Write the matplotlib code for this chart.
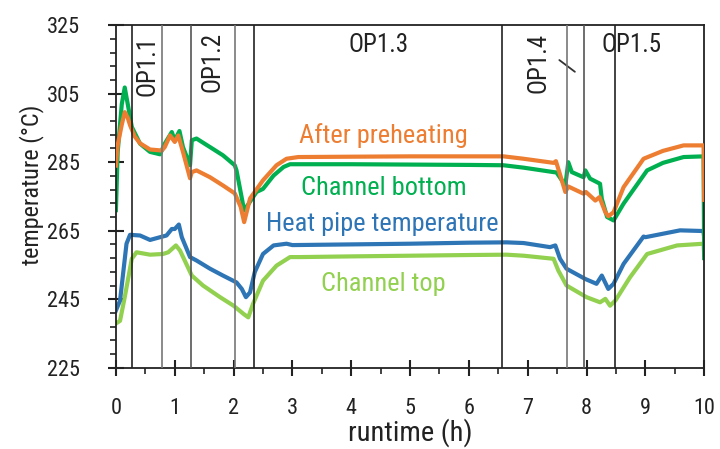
import matplotlib
matplotlib.use("Agg")
import numpy as np
import matplotlib.pyplot as plt

plt.rcParams['font.family'] = ['Roboto Condensed', 'Liberation Sans Narrow', 'Liberation Sans']

# runtime (h) / temperature (degC) for each measuring point
t_preheat = [0, 0.03, 0.1, 0.15, 0.2, 0.24, 0.32, 0.41, 0.58, 0.78, 0.83, 0.92, 1.0, 1.06,
             1.14, 1.26, 1.29, 1.37, 1.6, 1.82, 2.02, 2.12, 2.18, 2.28, 2.5, 2.73, 2.9,
             3.1, 4.0, 5.0, 6.0, 6.59, 6.93, 7.44, 7.48, 7.58, 7.64, 7.69, 7.95, 7.99,
             8.15, 8.22, 8.32, 8.37, 8.46, 8.63, 8.97, 9.3, 9.65, 9.99, 10.0]
T_preheat = [284, 290, 296, 299.6, 298, 295.8, 292.5, 290.5, 288.7, 288.4, 289.4, 292.8,
             290.9, 292.8, 288, 280.3, 282.1, 282.6, 280.6, 278.2, 275.9, 272, 267.5,
             274.4, 279.7, 284.1, 286.0, 286.5, 286.6, 286.7, 286.7, 286.7, 286.0, 284.8,
             285.3, 279.7, 276.3, 277.9, 275.8, 276.3, 273.8, 274.8, 270.4, 269.2, 270.4,
             277.7, 286.0, 288.3, 289.9, 289.9, 274]

t_bottom = [0, 0.03, 0.1, 0.15, 0.21, 0.27, 0.41, 0.58, 0.75, 0.83, 0.95, 1.0, 1.08, 1.14,
            1.26, 1.29, 1.37, 1.6, 1.82, 2.02, 2.05, 2.18, 2.39, 2.5, 2.68, 2.85, 2.96,
            4.0, 5.0, 6.0, 6.59, 6.93, 7.44, 7.49, 7.64, 7.69, 7.75, 7.95, 7.98, 8.06,
            8.23, 8.26, 8.35, 8.46, 8.63, 9.03, 9.3, 9.65, 9.99, 10.0]
T_bottom = [271, 288, 302, 306.8, 301.1, 295.3, 290.4, 288.0, 287.3, 290.4, 293.8, 291.4,
            294.1, 289.4, 284.1, 291.4, 291.9, 289.4, 287.0, 284.1, 282.6, 270.9, 276.3,
            277.2, 281.1, 283.6, 284.4, 284.4, 284.3, 284.2, 284.1, 283.4, 282.1, 282.0,
            278.2, 285.0, 282.1, 280.6, 282.6, 280.2, 278.7, 274.3, 269.0, 268.0, 272.9,
            282.6, 284.8, 286.5, 286.7, 257]

t_pipe = [0, 0.07, 0.18, 0.24, 0.41, 0.58, 0.75, 0.86, 0.95, 1.0, 1.07, 1.12, 1.26, 1.37,
          1.6, 1.82, 2.05, 2.14, 2.21, 2.28, 2.36, 2.5, 2.68, 2.9, 3.0, 4.0, 5.0, 6.0,
          6.64, 6.93, 7.38, 7.47, 7.55, 7.66, 7.98, 8.17, 8.26, 8.37, 8.46, 8.63, 8.97,
          9.0, 9.59, 9.99, 10.0]
T_pipe = [241.7, 244.6, 261.2, 263.8, 263.6, 262.3, 263.1, 263.6, 265.5, 265.5, 266.8,
          263.1, 257.3, 256.3, 253.9, 251.9, 249.9, 248.0, 245.6, 247.0, 252.9, 258.2,
          260.7, 261.2, 260.8, 261.0, 261.2, 261.5, 261.6, 261.4, 260.2, 260.7, 256.8,
          253.9, 250.9, 249.5, 251.9, 248.0, 249.5, 255.3, 263.3, 263.1, 265.1, 264.9, 263]

t_top = [0, 0.07, 0.15, 0.27, 0.35, 0.58, 0.80, 0.89, 1.02, 1.09, 1.29, 1.48, 1.77, 2.0,
         2.17, 2.25, 2.33, 2.5, 2.73, 2.96, 3.13, 4.0, 5.0, 6.0, 6.64, 6.93, 7.44, 7.52,
         7.66, 8.0, 8.23, 8.32, 8.4, 8.49, 8.74, 9.03, 9.54, 9.99, 10.0]
T_top = [237.9, 238.7, 245.6, 256.8, 258.7, 258.0, 258.2, 258.7, 260.7, 259.2, 251.9,
         249.0, 245.6, 243.1, 240.7, 239.7, 243.6, 250.4, 254.8, 257.3, 257.3, 257.5,
         257.7, 257.9, 258.0, 257.7, 256.8, 253.4, 249.0, 245.6, 244.1, 245.1, 243.1,
         244.6, 251.4, 258.2, 260.7, 261.2, 258]

# boundaries between operating points (h)
op_bounds = [0.267, 0.78, 1.28, 2.02, 2.35, 6.57, 7.67, 7.96, 8.49]
op_colors = ['#222222', '#777777', '#555555', '#777777', '#222222',
             '#222222', '#777777', '#555555', '#222222']

x_ticks = list(range(0, 11))
y_ticks = [225, 245, 265, 285, 305, 325]

fig = plt.figure(figsize=(7.2, 4.49), dpi=100)
ax = fig.add_axes([0.161, 0.181, 0.817, 0.763])

for xb, c in zip(op_bounds, op_colors):
    ax.axvline(xb, color=c, lw=1.2, zorder=4)

ax.plot(t_top, T_top, color='#92D050', lw=3, zorder=2)
ax.plot(t_pipe, T_pipe, color='#2E75B6', lw=3, zorder=2)
ax.plot(t_bottom, T_bottom, color='#00B050', lw=3, zorder=2)
ax.plot(t_preheat, T_preheat, color='#ED7D31', lw=3, zorder=3)

ax.set_xlim(0, 10)
ax.set_ylim(225, 325)
ax.set_xticks(x_ticks)
ax.set_xticks(np.arange(0.5, 10, 1), minor=True)
ax.set_yticks(y_ticks)
ax.set_yticks(np.arange(y_ticks[0], y_ticks[-1] + 1, 4), minor=True)

for s in ax.spines.values():
    s.set_linewidth(1.3)
    s.set_color('#222222')

ax.tick_params(which='major', direction='inout', length=12, width=1.5,
               color='#222222', labelsize=16, labelcolor='#222222')
ax.tick_params(axis='y', which='major', pad=20)
ax.tick_params(axis='x', which='major', pad=16)
ax.tick_params(which='minor', direction='out', length=4.5, width=1.2, color='#222222')

ax.set_xlabel('runtime (h)', fontsize=20.5, color='#222222')
ax.set_ylabel('temperature (°C)', fontsize=17.5, color='#222222')
ax.xaxis.set_label_coords(0.5, -0.19)
ax.yaxis.set_label_coords(-0.143, 0.533)
ax.xaxis.label.set_va('center')
ax.yaxis.label.set_va('center')

# operating point labels
op_kw = dict(fontsize=18, color='#222222', ha='center', va='center')
ax.text(0.54, 313.0, 'OP1.1', rotation=90, **op_kw)
ax.text(1.65, 314.2, 'OP1.2', rotation=90, **op_kw)
ax.text(4.46, 319.2, 'OP1.3', **op_kw)
ax.text(7.18, 313.9, 'OP1.4', rotation=90, **op_kw)
ax.text(8.77, 319.2, 'OP1.5', **op_kw)
ax.annotate('', xy=(7.84, 310.9), xytext=(7.50, 315.3),
            arrowprops=dict(arrowstyle='-', color='#333333', lw=1.3))

# series names
lab_kw = dict(fontsize=19, ha='center', va='baseline')
ax.text(4.55, 290.5, 'After preheating', color='#ED7D31', **lab_kw)
ax.text(4.55, 275.3, 'Channel bottom', color='#00B050', **lab_kw)
ax.text(4.53, 264.9, 'Heat pipe temperature', color='#2E75B6', **lab_kw)
ax.text(4.55, 247.5, 'Channel top', color='#92D050', **lab_kw)

fig.savefig('out.png', dpi=100)
